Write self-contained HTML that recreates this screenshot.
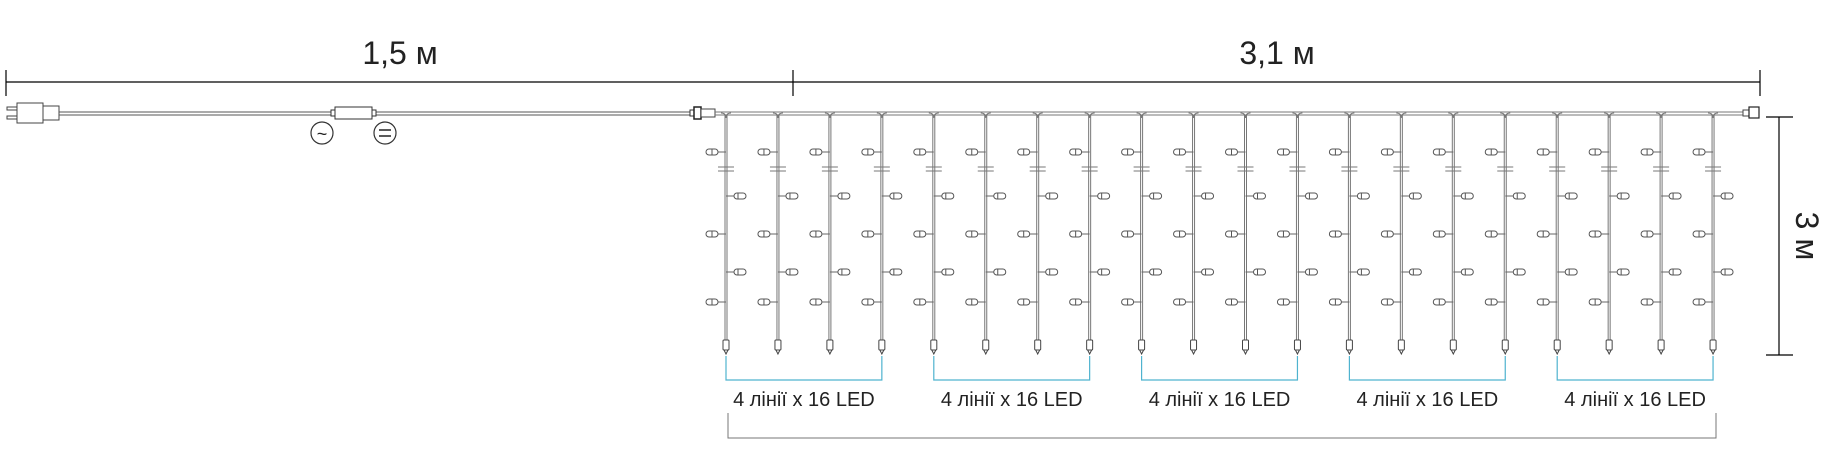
<!DOCTYPE html>
<html><head><meta charset="utf-8"><style>html,body{margin:0;padding:0;background:#fff}svg{display:block}</style></head>
<body>
<svg width="1831" height="455" viewBox="0 0 1831 455" xmlns="http://www.w3.org/2000/svg" font-family="Liberation Sans, sans-serif">
<!-- top dimension -->
<line x1="6" y1="82" x2="1760" y2="82" stroke="#000" stroke-width="1.2"/>
<line x1="6" y1="70" x2="6" y2="96" stroke="#000" stroke-width="1.2"/>
<line x1="793" y1="70" x2="793" y2="96" stroke="#000" stroke-width="1.2"/>
<line x1="1760" y1="70" x2="1760" y2="96" stroke="#000" stroke-width="1.2"/>
<text x="400" y="64" font-size="32" text-anchor="middle" fill="#222">1,5 м</text>
<text x="1277" y="64" font-size="32" text-anchor="middle" fill="#222">3,1 м</text>
<!-- plug -->
<g stroke="#444" fill="#fff" stroke-width="1">
<rect x="7" y="107" width="10" height="3"/><rect x="7" y="116" width="10" height="3"/>
<rect x="17" y="103" width="26" height="20"/>
<rect x="43" y="106" width="16" height="14"/>
</g>
<!-- supply cable -->
<line x1="59" y1="112" x2="690" y2="112" stroke="#555" stroke-width="1"/>
<line x1="59" y1="115" x2="690" y2="115" stroke="#555" stroke-width="1"/>
<rect x="335" y="107" width="37" height="12" fill="#fff" stroke="#333"/>
<rect x="331" y="110" width="4" height="6" fill="#fff" stroke="#333"/>
<rect x="372" y="110" width="4" height="6" fill="#fff" stroke="#333"/>
<circle cx="322" cy="133" r="11" fill="#fff" stroke="#333" stroke-width="1.2"/>
<text x="322" y="140" font-size="18" text-anchor="middle" fill="#222">~</text>
<circle cx="385" cy="133" r="11" fill="#fff" stroke="#333" stroke-width="1.2"/>
<line x1="379" y1="130" x2="391" y2="130" stroke="#222" stroke-width="1.5"/>
<line x1="379" y1="136" x2="391" y2="136" stroke="#222" stroke-width="1.5"/>
<!-- left connector -->
<rect x="690" y="110" width="4" height="6" fill="#fff" stroke="#333"/>
<rect x="694" y="107" width="7" height="12" fill="#fff" stroke="#222" stroke-width="1.5"/>
<rect x="701" y="109" width="14" height="8" fill="#fff" stroke="#444"/>
<!-- bus -->
<line x1="715" y1="112" x2="1743" y2="112" stroke="#777" stroke-width="1"/>
<line x1="715" y1="115" x2="1743" y2="115" stroke="#777" stroke-width="1"/>
<!-- right end connector -->
<rect x="1743" y="110" width="6" height="6" fill="#fff" stroke="#444"/>
<rect x="1749" y="107" width="10" height="11" fill="#fff" stroke="#222" stroke-width="1.2"/>
<g id="strands"></g>
<!-- 3m dimension -->
<line x1="1779" y1="117" x2="1779" y2="355" stroke="#000" stroke-width="1.2"/>
<line x1="1766" y1="117" x2="1793" y2="117" stroke="#000" stroke-width="1.2"/>
<line x1="1766" y1="355" x2="1793" y2="355" stroke="#000" stroke-width="1.2"/>
<text x="1807" y="236" font-size="32" text-anchor="middle" fill="#222" transform="rotate(90 1807 236)" dy="11">3 м</text>
<!-- bottom bracket -->
<polyline points="728,413 728,438 1716,438 1716,413" fill="none" stroke="#777" stroke-width="1"/>
</svg>
<script>
(function(){
var g=document.getElementById('strands'),ns='http://www.w3.org/2000/svg',h='';
for(var i=0;i<20;i++){
 var x=726+i*51.95;
 h+='<line x1="'+x+'" y1="115" x2="'+x+'" y2="340" stroke="#777" stroke-width="3"/>';
 h+='<line x1="'+x+'" y1="116" x2="'+x+'" y2="340" stroke="#fff" stroke-width="1"/>';
 h+='<path d="M'+(x-5)+' 113 Q'+x+' 113 '+x+' 118 M'+(x+5)+' 113 Q'+x+' 113 '+x+' 118" fill="none" stroke="#777"/>';
 // separator
 h+='<line x1="'+(x-8)+'" y1="167" x2="'+(x+8)+'" y2="167" stroke="#777"/><line x1="'+(x-8)+'" y1="171" x2="'+(x+8)+'" y2="171" stroke="#777"/>';
 [152,234,302].forEach(function(y){
  h+='<line x1="'+(x-8)+'" y1="'+y+'" x2="'+x+'" y2="'+y+'" stroke="#666"/>';
  h+='<rect x="'+(x-20)+'" y="'+(y-3)+'" width="12" height="6" rx="3" fill="#fff" stroke="#555"/>';
  h+='<line x1="'+(x-14)+'" y1="'+(y-3)+'" x2="'+(x-14)+'" y2="'+(y+3)+'" stroke="#555"/>';
 });
 [196,272].forEach(function(y){
  h+='<line x1="'+x+'" y1="'+y+'" x2="'+(x+8)+'" y2="'+y+'" stroke="#666"/>';
  h+='<rect x="'+(x+8)+'" y="'+(y-3)+'" width="12" height="6" rx="3" fill="#fff" stroke="#555"/>';
  h+='<line x1="'+(x+12)+'" y1="'+(y-3)+'" x2="'+(x+12)+'" y2="'+(y+3)+'" stroke="#555"/>';
 });
 h+='<rect x="'+(x-3)+'" y="340" width="6" height="10" rx="1" fill="#fff" stroke="#444"/>';
 h+='<path d="M'+(x-2)+' 350 L'+x+' 354 L'+(x+2)+' 350" fill="none" stroke="#444"/>';
}
for(var k=0;k<5;k++){
 var a=726+4*k*51.95,b=726+(4*k+3)*51.95;
 h+='<polyline points="'+a+',356 '+a+',380 '+b+',380 '+b+',356" fill="none" stroke="#4fb3cf" stroke-width="1.2"/>';
 h+='<text x="'+((a+b)/2)+'" y="406" font-size="20" text-anchor="middle" fill="#222">4 лінії x 16 LED</text>';
}
g.innerHTML=h;
})();
</script>
</body></html>
